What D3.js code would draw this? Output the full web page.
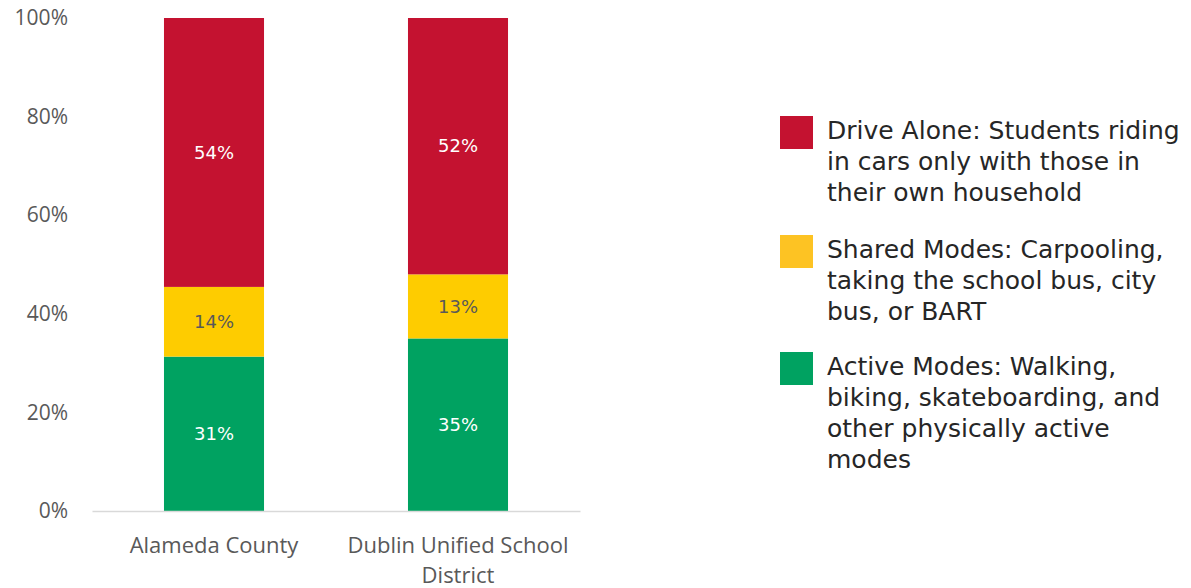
<!DOCTYPE html>
<html>
<head>
<meta charset="utf-8">
<script src="https://cdn.jsdelivr.net/npm/d3@7"></script>
<style>
  body { margin: 0; background: #fff; }
  svg { display: block; }
</style>
</head>
<body>
<div id="chart"></div>
<script>
// data
var categories = ["Alameda County", "Dublin Unified School District"];
var categoryLines = [["Alameda County"], ["Dublin Unified School", "District"]];
var seriesNames = ["Active", "Shared", "Drive"];
var activeValues = [31, 35];
var sharedValues = [14, 13];
var driveValues = [54, 52];
var yTicks = [0, 0.2, 0.4, 0.6, 0.8, 1];
var legendLabels = [
  ["Drive Alone: Students riding", "in cars only with those in", "their own household"],
  ["Shared Modes: Carpooling,", "taking the school bus, city", "bus, or BART"],
  ["Active Modes: Walking,", "biking, skateboarding, and", "other physically active", "modes"]
];

var colors = { Active: "#00A261", Shared: "#FECC00", Drive: "#C41230" };
var legendColors = ["#C41230", "#FDC323", "#00A261"];

var width = 1191, height = 588;
var svg = d3.select("#chart").append("svg")
  .attr("width", width)
  .attr("height", height);

var rows = categories.map(function(c, i) {
  return { cat: c, Active: activeValues[i], Shared: sharedValues[i], Drive: driveValues[i] };
});

var stack = d3.stack().keys(seriesNames).offset(d3.stackOffsetExpand);
var layers = stack(rows);

var x = d3.scaleBand()
  .domain(categories)
  .range([92, 580])
  .paddingInner(0.59)
  .paddingOuter(0.295);

var y = d3.scaleLinear().domain([0, 1]).range([511, 18]);

// y axis labels (no line)
var yAxis = svg.append("g")
  .attr("transform", "translate(70,0)")
  .call(d3.axisLeft(y).tickValues(yTicks).tickFormat(d3.format(".0%")).tickSize(0).tickPadding(2));
yAxis.select(".domain").remove();
yAxis.selectAll("text")
  .attr("fill", "#595959")
  .style("font-family", "'Open Sans', sans-serif")
  .style("font-size", "21px");

// bars
var layerG = svg.selectAll(".layer")
  .data(layers)
  .enter().append("g")
  .attr("class", "layer")
  .attr("fill", function(d) { return colors[d.key]; });

layerG.selectAll("rect")
  .data(function(d) { return d; })
  .enter().append("rect")
  .attr("x", function(d) { return x(d.data.cat); })
  .attr("width", x.bandwidth())
  .attr("y", function(d) { return y(d[1]); })
  .attr("height", function(d) { return y(d[0]) - y(d[1]); });

// value labels
layers.forEach(function(layer) {
  svg.append("g").selectAll("text")
    .data(layer)
    .enter().append("text")
    .attr("x", function(d) { return x(d.data.cat) + x.bandwidth() / 2; })
    .attr("y", function(d) { return (y(d[0]) + y(d[1])) / 2; })
    .attr("dy", "0.35em")
    .attr("text-anchor", "middle")
    .attr("fill", layer.key === "Shared" ? "#595959" : "#ffffff")
    .style("font-family", "'DejaVu Sans', sans-serif")
    .style("font-size", "18px")
    .text(function(d) { return d.data[layer.key] + "%"; });
});

// x axis baseline
var xAxis = svg.append("g")
  .attr("transform", "translate(0,511)")
  .call(d3.axisBottom(x).tickSize(0).tickFormat(""));
xAxis.select(".domain").attr("stroke", "#D9D9D9").attr("stroke-width", 1.5);

// category labels
categories.forEach(function(c, i) {
  var t = svg.append("text")
    .attr("x", x(c) + x.bandwidth() / 2)
    .attr("y", 553)
    .attr("text-anchor", "middle")
    .attr("fill", "#595959")
    .style("font-family", "'Open Sans', sans-serif")
    .style("font-size", "22px");
  categoryLines[i].forEach(function(line, j) {
    t.append("tspan")
      .attr("x", x(c) + x.bandwidth() / 2)
      .attr("dy", j === 0 ? 0 : 30)
      .text(line);
  });
});

// legend
var legendTop = [116, 235, 352];
var legend = svg.append("g");
legendLabels.forEach(function(lines, i) {
  legend.append("rect")
    .attr("x", 780)
    .attr("y", legendTop[i])
    .attr("width", 33)
    .attr("height", 33)
    .attr("fill", legendColors[i]);
  var t = legend.append("text")
    .attr("x", 827)
    .attr("y", legendTop[i] + 23)
    .attr("fill", "#262626")
    .style("font-family", "'DejaVu Sans', sans-serif")
    .style("font-size", "25px");
  lines.forEach(function(line, j) {
    t.append("tspan")
      .attr("x", 827)
      .attr("dy", j === 0 ? 0 : 31)
      .text(line);
  });
});
</script>
</body>
</html>
